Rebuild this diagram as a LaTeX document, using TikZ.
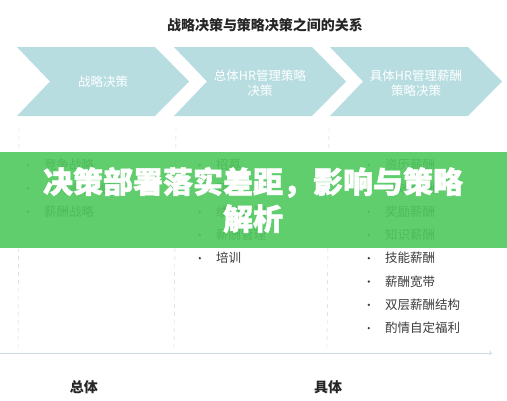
\documentclass[tikz,border=0pt]{standalone}
\usepackage{fontspec}
\setmainfont{Noto Sans CJK SC}
\newfontfamily\bannerfont[BoldFeatures={FakeBold=1.6}]{Noto Sans CJK SC}
\usepackage{tikz}
\usetikzlibrary{positioning}
\usetikzlibrary{arrows}
\definecolor{chevblue}{HTML}{B7DDE1}
\definecolor{bannergreen}{HTML}{50C95E}
\definecolor{itemgray}{HTML}{3C3C3C}
\definecolor{dashgray}{HTML}{D2D2D2}
\definecolor{axisblue}{HTML}{C9DEE1}
\tikzset{chevtext/.style={ % text inside the three chevrons
			text=white,
			font=\fontsize{12.5}{14.5}\selectfont,
			align=center,
			inner sep=0pt},
		bullet/.style={circle, fill=itemgray, inner sep=0pt, minimum size=2.6pt},
		item/.style={
			text=itemgray,
			font=\fontsize{12.5}{15}\selectfont,
			anchor=west,
			inner sep=0pt,
			label={[bullet, label distance=14.7pt]180:{}}},
		dashline/.style={draw=dashgray, dash pattern=on 4pt off 4pt, thin},
		bold label/.style={font=\fontsize{14}{16}\selectfont\bfseries, text=black!85}}

\begin{document}
\begin{tikzpicture}[x=1pt,y=-1pt]
			\useasboundingbox (0,0) rectangle (507,400);
			\node[bold label] (T) at (265,25) {战略决策与策略决策之间的关系};
			
			% chevrons
			\fill[chevblue] (17,47) -- ++(138,0) -- ++(34,34.5) -- ++(-34,34.5) -- ++(-138,0) -- ++(33,-34.5) -- cycle;
			\fill[chevblue] (174,47) -- ++(138,0) -- ++(34,34.5) -- ++(-34,34.5) -- ++(-138,0) -- ++(33,-34.5) -- cycle;
			\fill[chevblue] (330,47) -- ++(138,0) -- ++(34,34.5) -- ++(-34,34.5) -- ++(-138,0) -- ++(33,-34.5) -- cycle;
			\node[chevtext] (D1) at (103,82) {战略决策};
			\node[chevtext] (D2) at (260,83) {总体HR管理策略\\决策};
			\node[chevtext] (D3) at (416,83) {具体HR管理薪酬\\策略决策};
			
			\draw[dashline] (19,128) -- (18,350);
			\draw[dashline] (176,128) -- (174,350);
			\draw[dashline] (329,128) -- (327,350);
			
			\node[item] (A1) at (44,165) {竞争战略};
			\node[item] (A2) at (44,188.3) {人力资源战略};
			\node[item] (A3) at (44,211.6) {薪酬战略};
			
			\node[item] (B1) at (216,165) {招募};
			\node[item] (B2) at (216,188.3) {甄选};
			\node[item] (B3) at (216,211.6) {绩效管理};
			\node[item] (B4) at (216,234.9) {薪酬管理};
			\node[item] (B5) at (216,258.2) {培训};
			
			\node[item] (C1) at (385,165) {资历薪酬};
			\node[item] (C2) at (385,188.3) {绩效薪酬};
			\node[item] (C3) at (385,211.6) {奖励薪酬};
			\node[item] (C4) at (385,234.9) {知识薪酬};
			\node[item] (C5) at (385,258.2) {技能薪酬};
			\node[item] (C6) at (385,281.5) {薪酬宽带};
			\node[item] (C7) at (385,304.8) {双层薪酬结构};
			\node[item] (C8) at (385,328.1) {酌情自定福利};
			
			\coordinate (L) at (0,353);
			\coordinate (R) at (492,353);
			\draw[->, axisblue, line width=0.9pt] (L) -- (R);
			\node[bold label] (G) at (84,387) {总体};
			\node[bold label] (S) at (328,387) {具体};
			
			% banner on top
			\fill[bannergreen, opacity=0.9] (0,152) rectangle (507,248);
			\node[text=white, font=\fontsize{30}{37}\bannerfont\bfseries, align=center, inner sep=0pt] (H) at (253,200) {决策部署落实差距，影响与策略\\解析};
		\end{tikzpicture}
\end{document}
